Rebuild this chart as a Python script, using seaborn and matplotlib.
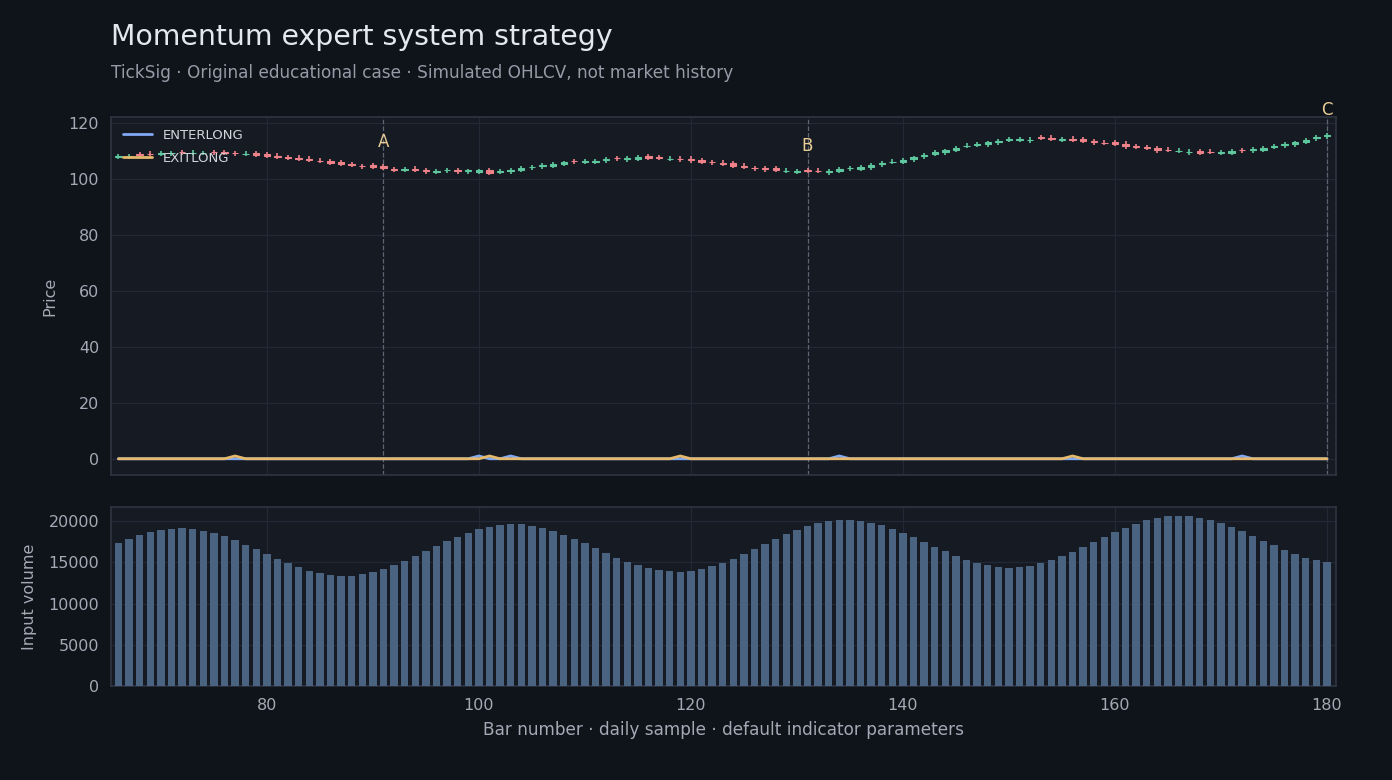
import matplotlib

matplotlib.use("Agg")
import matplotlib.pyplot as plt
import numpy as np
import pandas as pd
import seaborn as sns

# ---- data -----------------------------------------------------------------
BARS = list(range(66, 181))

OPENS = [
    107.95, 108.05, 108.75, 109.05, 108.9, 109.15, 109.55, 109.25, 109.25, 109.55,
    109.45, 109.25, 108.95, 109.15, 108.75, 108.25, 107.85, 107.55, 107.15, 106.55,
    106.25, 106.0, 105.35, 104.55, 104.8, 104.55, 103.35, 103.25, 103.55, 103.15,
    102.4, 103.05, 103.15, 102.65, 102.55, 103.0, 102.55, 102.7, 103.3, 104.15,
    104.55, 104.75, 105.3, 106.35, 106.15, 106.05, 106.65, 107.45, 107.05, 107.25,
    108.0, 107.85, 107.15, 107.15, 107.2, 106.6, 106.05, 105.75, 105.5, 104.6,
    103.85, 103.85, 103.8, 102.85, 102.55, 103.15, 102.95, 102.3, 102.95, 103.75,
    103.5, 104.1, 105.15, 106.05, 106.2, 106.95, 108.0, 109.05, 109.55, 110.3,
    111.75, 112.2, 112.3, 113.0, 114.05, 114.0, 113.75, 114.85, 114.7, 114.05,
    114.4, 114.2, 113.4, 112.95, 113.0, 112.5, 111.7, 111.25, 110.95, 110.45,
    109.95, 109.55, 109.8, 109.75, 109.25, 109.4, 110.35, 110.2, 110.3, 111.5,
    112.1, 112.4, 113.2, 114.5, 115.3,
]
HIGHS = [
    108.9, 109.0, 109.6, 109.9, 110.0, 110.1, 110.4, 110.2, 110.1, 110.4,
    110.3, 110.1, 109.9, 110.0, 109.6, 109.1, 108.7, 108.5, 108.0, 107.4,
    107.2, 106.9, 106.2, 105.4, 105.7, 105.4, 104.2, 104.2, 104.5, 104.0,
    103.5, 104.0, 104.0, 103.7, 103.6, 103.9, 103.6, 103.9, 104.6, 105.1,
    105.8, 106.1, 106.5, 107.2, 107.1, 107.2, 107.8, 108.3, 108.1, 108.4,
    108.9, 108.7, 108.1, 108.0, 108.1, 107.5, 106.9, 106.6, 106.4, 105.5,
    104.7, 104.7, 104.7, 103.8, 103.5, 104.0, 103.8, 103.5, 104.1, 104.7,
    104.8, 105.5, 106.3, 107.0, 107.4, 108.2, 109.2, 110.2, 110.8, 111.7,
    112.7, 113.3, 113.7, 114.1, 115.0, 115.1, 114.8, 115.7, 115.6, 115.1,
    115.3, 115.1, 114.3, 113.8, 113.9, 113.4, 112.6, 112.1, 111.9, 111.3,
    110.9, 110.5, 110.7, 110.7, 110.4, 110.5, 111.2, 111.3, 111.7, 112.6,
    113.2, 113.6, 114.6, 115.6, 116.4,
]
LOWS = [
    107.1, 107.2, 107.8, 108.1, 108.1, 108.3, 108.6, 108.4, 108.4, 108.6,
    108.5, 108.3, 108.1, 107.8, 107.5, 107.1, 106.6, 106.3, 106.0, 105.6,
    105.0, 104.6, 104.2, 103.6, 103.6, 103.3, 102.4, 102.4, 102.4, 101.9,
    101.6, 102.2, 101.9, 101.8, 101.7, 101.4, 101.6, 101.8, 102.5, 103.3,
    103.7, 103.9, 104.5, 105.4, 105.3, 105.3, 105.8, 106.5, 106.2, 106.5,
    106.9, 106.6, 106.3, 106.2, 105.8, 105.2, 105.1, 104.5, 103.8, 103.4,
    102.9, 102.6, 102.4, 102.0, 101.7, 102.0, 102.0, 101.5, 102.1, 102.9,
    102.7, 103.3, 104.3, 105.2, 105.3, 106.1, 107.1, 108.2, 108.7, 109.5,
    110.9, 111.3, 111.5, 112.1, 113.2, 113.1, 112.9, 113.9, 113.5, 113.2,
    113.2, 112.8, 112.2, 112.0, 111.8, 110.8, 110.5, 110.3, 109.4, 109.5,
    109.1, 108.7, 108.6, 108.8, 108.4, 108.6, 109.4, 109.3, 109.5, 110.6,
    111.2, 111.5, 112.3, 113.6, 114.4,
]
CLOSES = [
    108.05, 108.15, 108.65, 108.95, 109.3, 109.25, 109.45, 109.35, 109.35, 109.45,
    109.35, 109.15, 109.05, 108.65, 108.25, 107.95, 107.35, 107.05, 106.85, 106.45,
    105.75, 105.4, 105.05, 104.45, 104.4, 104.05, 103.25, 103.35, 103.25, 102.65,
    102.8, 103.15, 102.65, 103.15, 103.05, 102.2, 102.65, 103.3, 103.9, 104.25,
    105.05, 105.45, 105.9, 106.25, 106.25, 106.55, 107.15, 107.35, 107.35, 107.75,
    107.6, 107.35, 107.25, 107.05, 106.6, 106.0, 105.95, 105.25, 104.7, 104.2,
    103.75, 103.35, 103.2, 102.95, 102.65, 102.85, 102.85, 102.9, 103.45, 103.85,
    104.1, 104.9, 105.65, 106.15, 106.8, 107.65, 108.6, 109.55, 110.25, 111.1,
    111.85, 112.6, 113.1, 113.4, 114.15, 114.4, 114.05, 114.75, 114.3, 114.35,
    114.0, 113.6, 113.0, 112.85, 112.6, 111.7, 111.3, 111.15, 110.25, 110.35,
    110.05, 109.65, 109.4, 109.65, 109.75, 109.8, 110.25, 110.6, 111.1, 111.9,
    112.5, 113.0, 114.0, 114.9, 115.7,
]
VOLUMES = [
    17330, 17820, 18300, 18670, 18910, 19030, 19150, 19030, 18790, 18550,
    18180, 17700, 17090, 16610, 16000, 15390, 14910, 14420, 13940, 13700,
    13450, 13330, 13330, 13580, 13820, 14180, 14670, 15150, 15760, 16360,
    16970, 17580, 18060, 18550, 19030, 19270, 19520, 19640, 19640, 19390,
    19150, 18790, 18300, 17820, 17330, 16730, 16120, 15520, 15030, 14670,
    14300, 14060, 13940, 13820, 13940, 14180, 14550, 14910, 15390, 16000,
    16610, 17210, 17820, 18420, 18910, 19390, 19760, 20000, 20120, 20120,
    20000, 19760, 19520, 19030, 18550, 18060, 17450, 16850, 16360, 15760,
    15270, 14910, 14670, 14420, 14300, 14420, 14550, 14910, 15270, 15760,
    16240, 16850, 17450, 18060, 18670, 19150, 19640, 20120, 20360, 20610,
    20610, 20610, 20360, 20120, 19760, 19270, 18790, 18180, 17580, 17090,
    16480, 16000, 15520, 15270, 15030,
]
ENTER_BARS = [100, 103, 134, 172]
EXIT_BARS = [77, 101, 119, 156]
MARKERS = [("A", 91), ("B", 131), ("C", 180)]

TITLE = "Momentum expert system strategy"
SUBTITLE = "TickSig · Original educational case · Simulated OHLCV, not market history"
XLABEL = "Bar number · daily sample · default indicator parameters"

# ---- style ----------------------------------------------------------------
BG = "#0f131a"
PANEL = "#151a23"
GRID = "#232934"
SPINE = "#2e3441"
TEXT = "#a3aab5"
UP = "#5ec79d"
DOWN = "#ef8189"
ENTER_C = "#82a9f5"
EXIT_C = "#e5b96c"
MARK_C = "#e8cd95"
VOL_C = "#4a6380"

sns.set_theme(style="darkgrid")
plt.rcParams.update({
    "figure.facecolor": BG,
    "axes.facecolor": PANEL,
    "axes.edgecolor": SPINE,
    "axes.linewidth": 1.2,
    "grid.color": GRID,
    "grid.linewidth": 0.9,
    "xtick.color": TEXT,
    "ytick.color": TEXT,
    "xtick.labelcolor": TEXT,
    "ytick.labelcolor": TEXT,
    "xtick.labelsize": 11.5,
    "ytick.labelsize": 11.5,
    "axes.labelcolor": TEXT,
    "text.color": TEXT,
})
plt.rcParams["font.family"] = ["DejaVu Sans"]

df = pd.DataFrame({
    "bar": BARS, "open": OPENS, "high": HIGHS, "low": LOWS,
    "close": CLOSES, "volume": VOLUMES,
})
df["ENTERLONG"] = df["bar"].isin(ENTER_BARS).astype(float)
df["EXITLONG"] = df["bar"].isin(EXIT_BARS).astype(float)

fig = plt.figure(figsize=(13.92, 7.8), dpi=100)
W, H = 1392, 780
ax1 = fig.add_axes([111 / W, 1 - 475 / H, 1225 / W, 358 / H])
ax2 = fig.add_axes([111 / W, 1 - 686 / H, 1225 / W, 179 / H], sharex=ax1)

# ---- price panel ----------------------------------------------------------
up = df["close"] >= df["open"]
colors = np.where(up, UP, DOWN)
ax1.vlines(df["bar"], df["low"], df["high"], colors=colors, linewidth=1.2, zorder=3)
body_lo = np.minimum(df["open"], df["close"])
body_h = np.abs(df["close"] - df["open"])
ax1.bar(df["bar"], body_h, bottom=body_lo, width=0.6, color=colors,
        edgecolor=colors, linewidth=0.8, zorder=3)

sns.lineplot(data=df, x="bar", y="ENTERLONG", ax=ax1, color=ENTER_C,
             linewidth=2, label="ENTERLONG", zorder=4)
sns.lineplot(data=df, x="bar", y="EXITLONG", ax=ax1, color=EXIT_C,
             linewidth=2, label="EXITLONG", zorder=4)

for name, b in MARKERS:
    ax1.axvline(b, color="#5d6472", linestyle="--", linewidth=0.9, zorder=2)
    y = df.loc[df["bar"] == b, "close"].iloc[0] + 9
    ax1.text(b, y, name, color=MARK_C, fontsize=12, ha="center", va="center",
             clip_on=False, zorder=5)

leg = ax1.legend(loc="upper left", frameon=False, fontsize=9.5,
                 handlelength=2.2, labelspacing=0.75)
for t in leg.get_texts():
    t.set_color("#d2d6dc")

ax1.set_ylim(-5.8, 122.1)
ax1.set_yticks([0, 20, 40, 60, 80, 100, 120])
ax1.set_ylabel("Price", fontsize=11.5, labelpad=8)
ax1.set_xlabel("")
ax1.tick_params(axis="x", labelbottom=False)

# ---- volume panel ---------------------------------------------------------
sns.barplot(data=df, x="bar", y="volume", ax=ax2, native_scale=True,
            color=VOL_C, saturation=1, width=0.7, errorbar=None,
            linewidth=0, edgecolor="none", zorder=3)
ax2.set_ylim(0, 21700)
ax2.set_yticks([0, 5000, 10000, 15000, 20000])
ax2.set_ylabel("Input volume", fontsize=11.5, labelpad=8)
ax2.set_xlabel(XLABEL, fontsize=12.2, labelpad=6)

ax1.set_xlim(65.3, 180.85)
ax2.set_xticks([80, 100, 120, 140, 160, 180])

for ax in (ax1, ax2):
    ax.grid(True, color=GRID, linewidth=0.9)
    ax.set_axisbelow(True)
    ax.tick_params(length=5, width=1, color="#8a919c", which="both")
    for s in ax.spines.values():
        s.set_visible(True)
        s.set_color(SPINE)
        s.set_linewidth(1.2)

fig.text(111 / W, 1 - 37 / H, TITLE, fontsize=20.4, color="#e4e7ec",
         ha="left", va="center")
fig.text(111 / W, 1 - 73 / H, SUBTITLE, fontsize=12.2, color="#959ca7",
         ha="left", va="center")

fig.savefig("out.png", dpi=100, facecolor=BG)
